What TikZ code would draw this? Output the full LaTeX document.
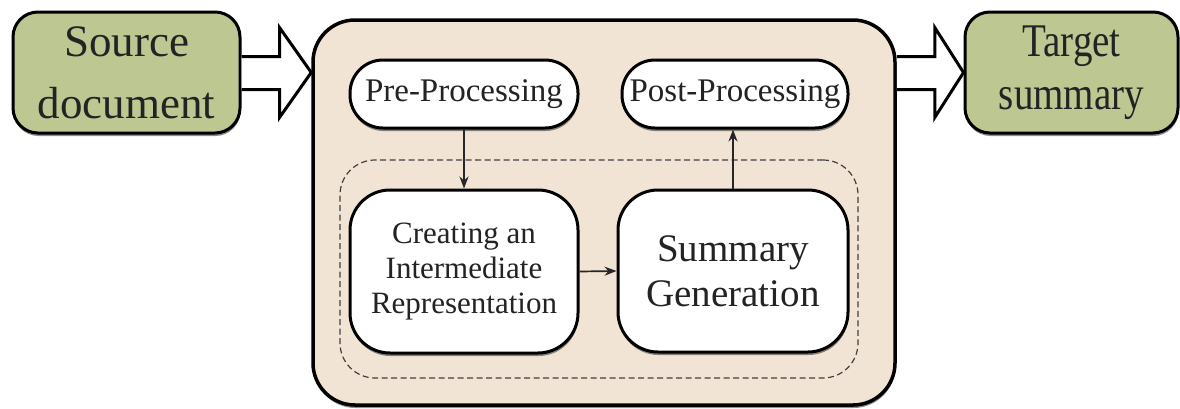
\documentclass[tikz,border=0pt]{standalone}
\usepackage{fontspec}
\setmainfont{Liberation Serif}
\usepackage{graphicx}
\usetikzlibrary{calc,arrows.meta,shadows}
\definecolor{srcgreen}{RGB}{189,199,146}
\definecolor{mainbeige}{RGB}{242,228,213}
\definecolor{txt}{RGB}{35,35,35}
\begin{document}
\begin{tikzpicture}[x=1pt,y=-1pt,
  shade box/.style={drop shadow={shadow xshift=0.5pt,shadow yshift=-3pt,opacity=0.45,fill=black}},
  endbox/.style={draw=black,line width=3pt,fill=srcgreen,rounded corners=25pt,
     text=txt,align=center,inner sep=0pt,shade box},
  mainbox/.style={draw=black,line width=3.5pt,fill=mainbeige,rounded corners=42pt,shade box},
  pillbox/.style={draw=black,line width=3pt,fill=white,rounded corners=33pt,
     text=txt,align=center,inner sep=0pt,shade box},
  stagebox/.style={draw=black,line width=3pt,fill=white,rounded corners=40pt,
     text=txt,align=center,inner sep=0pt,shade box},
  groupbox/.style={draw=black!75,line width=1.2pt,dash pattern=on 6pt off 3.5pt,rounded corners=35pt},
  blockarrow/.style={draw=black,line width=3pt,fill=white,line join=miter},
  conn/.style={draw=black!85,line width=1.7pt,-{Stealth[length=12pt,width=9pt]}}
]
\useasboundingbox (0,0) rectangle (1180,408);

\node[mainbox,minimum width=582pt,minimum height=385pt] (main) at (604,212.5) {};
\node[groupbox,minimum width=518pt,minimum height=218pt] (grp) at (599,269) {};

\node[endbox,minimum width=227pt,minimum height=121pt,font=\fontsize{45}{62}\selectfont] (src) at (126.5,72.5) {Source\\document};
\node[endbox,minimum width=213pt,minimum height=121pt] (tgt) at (1071.5,72.5)
  {\scalebox{1}[1.2]{\fontsize{39}{44}\selectfont\begin{tabular}{@{}c@{}}Target\\summary\end{tabular}}};

\node[pillbox,minimum width=228pt,minimum height=68pt,font=\fontsize{33}{38}\selectfont] (pre) at (464,94) {Pre-Processing};
\node[pillbox,minimum width=226pt,minimum height=68pt,font=\fontsize{33}{38}\selectfont] (post) at (735,94) {Post-Processing};

\node[stagebox,minimum width=228pt,minimum height=163pt,font=\fontsize{31}{35}\selectfont] (crt) at (464,271.5) {Creating an\\Intermediate\\Representation};
\node[stagebox,minimum width=230pt,minimum height=162pt,font=\fontsize{39}{45}\selectfont] (sum) at (733,271) {Summary\\Generation};

% block arrows
\draw[blockarrow] ($(src.east)+(0,-16)$) -- ++(38,0) -- ++(0,-29) -- (main.west |- src.east)
   -- ($(src.east)+(38,45)$) -- ++(0,-28) -- ($(src.east)+(0,17)$);
\draw[blockarrow] ($(main.east |- tgt.west)+(0,-16)$) -- ++(38,0) -- ++(0,-29) -- (tgt.west)
   -- ($(main.east |- tgt.west)+(38,45)$) -- ++(0,-28) -- ($(main.east |- tgt.west)+(0,17)$);

% connectors
\draw[conn] (pre.south) -- (crt.north);
\draw[conn] (crt.east) -- (sum.west);
\draw[conn] (sum.north) -- (sum.north |- post.south);
\end{tikzpicture}
\end{document}
